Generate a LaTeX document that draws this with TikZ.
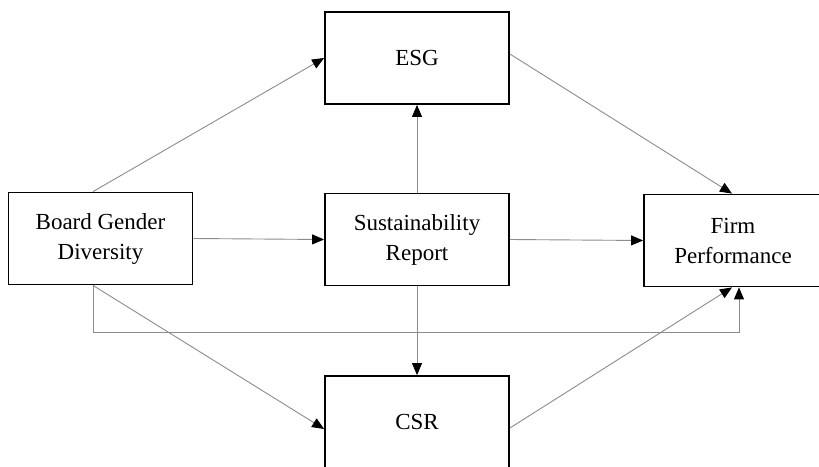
\documentclass[tikz,border=0pt]{standalone}
\usepackage{fontspec}
\setmainfont{Liberation Serif}
\usetikzlibrary{arrows.meta,calc}
\tikzset{
  box/.style={draw=black, line width=1.8pt, minimum width=184pt, minimum height=92pt, inner sep=0pt, align=center, font=\fontsize{23}{30}\selectfont},
  conn/.style={draw=black!45, line width=0.9pt, -{Triangle[length=12pt,width=10pt,fill=black,color=black]}},
}
\begin{document}
\begin{tikzpicture}[x=1pt,y=-1pt]
\useasboundingbox (0,0) rectangle (819,466);
\clip (0,0) rectangle (819,466);
\fill[white] (0,0) rectangle (819,466);
\node[box] (bgd) at (100.5,238.5) {Board Gender\\Diversity};
\node[box] (esg) at (417,58) {ESG};
\node[box] (sr) at (417,239.5) {Sustainability\\Report};
\node[box, minimum width=178pt] (fp) at (733,240.5) {Firm\\Performance};
\node[box] (csr) at (417,422) {CSR};
\coordinate (low) at (0,332);
\draw[conn] ([xshift=-7.5pt]bgd.north) -- (esg.west);
\draw[conn] (bgd.east) -- (sr.west);
\draw[conn] (sr.north) -- (esg.south);
\draw[conn] (sr.east) -- (fp.west);
\draw[conn] (sr.south) -- (csr.north);
\draw[conn] ([yshift=4pt]esg.east) -- ([xshift=-1pt]fp.north);
\draw[conn] ([xshift=-7.5pt]bgd.south) -- ([xshift=-7.5pt]bgd.south |- low) -| ([xshift=6pt]fp.south);
\draw[conn] ([xshift=-7.5pt]bgd.south) -- ([yshift=-7pt]csr.west);
\draw[conn] ([yshift=-6pt]csr.east) -- ([xshift=-1pt]fp.south);
\end{tikzpicture}
\end{document}
